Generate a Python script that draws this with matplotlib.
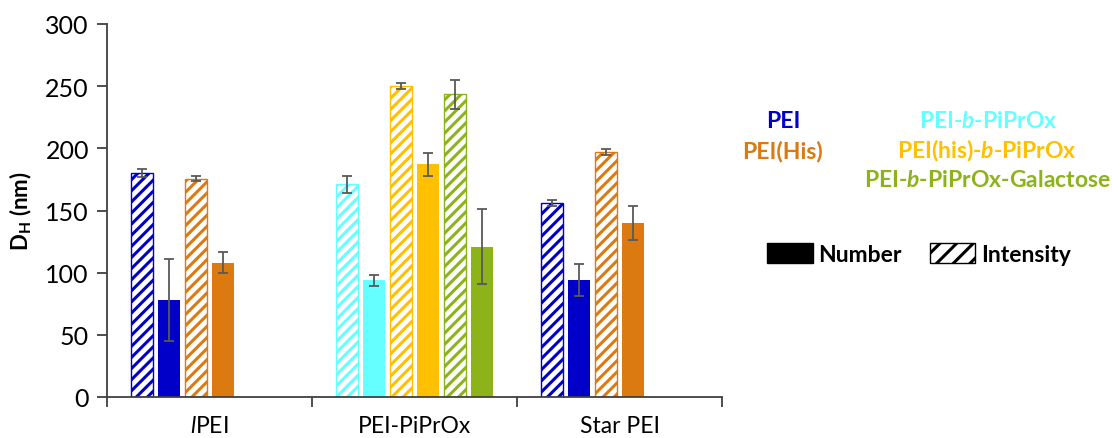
import numpy as np
import matplotlib
matplotlib.use('Agg')
import matplotlib.pyplot as plt
from matplotlib.patches import Patch

plt.rcParams['font.family'] = ['Lato', 'DejaVu Sans']
plt.rcParams['mathtext.fontset'] = 'custom'
plt.rcParams['mathtext.rm'] = 'Lato'
plt.rcParams['mathtext.it'] = 'Lato:italic'
plt.rcParams['mathtext.bf'] = 'Lato:bold'
plt.rcParams['mathtext.bfit'] = 'Lato:italic:bold'
plt.rcParams['hatch.linewidth'] = 2.2

nan = np.nan

# groups on the x axis
groups = [r'$\mathit{l}$PEI', 'PEI-PiPrOx', 'Star PEI']

# series: intensity / number means and errors per group
pei_int = [180, nan, 156]
pei_int_err = [3, nan, 2.5]
pei_num = [78, nan, 94]
pei_num_err = [33, nan, 13]

his_int = [175.5, nan, 197]
his_int_err = [2, nan, 2.5]
his_num = [108, nan, 140]
his_num_err = [8.5, nan, 13.5]

piprox_int = [nan, 171, nan]
piprox_int_err = [nan, 7, nan]
piprox_num = [nan, 94, nan]
piprox_num_err = [nan, 4.5, nan]

hispiprox_int = [nan, 250, nan]
hispiprox_int_err = [nan, 2.5, nan]
hispiprox_num = [nan, 187, nan]
hispiprox_num_err = [nan, 9.5, nan]

gal_int = [nan, 243.5, nan]
gal_int_err = [nan, 11.5, nan]
gal_num = [nan, 121, nan]
gal_num_err = [nan, 30, nan]

# (label, colour, slot pair, intensity, int err, number, num err)
series = [
    ('PEI', '#0000C8', 0, pei_int, pei_int_err, pei_num, pei_num_err),
    ('PEI(His)', '#DC7A12', 1, his_int, his_int_err, his_num, his_num_err),
    ('PEI-b-PiPrOx', '#66FFFF', 0, piprox_int, piprox_int_err, piprox_num, piprox_num_err),
    ('PEI(his)-b-PiPrOx', '#FFC000', 1, hispiprox_int, hispiprox_int_err, hispiprox_num, hispiprox_num_err),
    ('PEI-b-PiPrOx-Galactose', '#8DB31A', 2, gal_int, gal_int_err, gal_num, gal_num_err),
]

fig = plt.figure(figsize=(11.12, 4.39), dpi=100)
ax = fig.add_axes([107 / 1112, 1 - 398 / 439, (722 - 107) / 1112, (398 - 25) / 439])

x = np.arange(len(groups))
pitch = 27 / 205
width = 21.5 / 205
err_kw = dict(ecolor='#595959', elinewidth=1.3, capsize=3.5, capthick=1.3)

for label, color, slot, inten, inten_err, num, num_err in series:
    off_i = (2 * slot - 2.5) * pitch
    off_n = (2 * slot + 1 - 2.5) * pitch
    ax.bar(x + off_i, inten, width, yerr=inten_err, facecolor='white', edgecolor=color,
           hatch='///', linewidth=1.0, error_kw=err_kw, zorder=2)
    ax.bar(x + off_n, num, width, yerr=num_err, color=color, error_kw=err_kw, zorder=2)

ax.set_xlim(-0.5, 2.5)
ax.set_ylim(0, 300)
ax.set_yticks(range(0, 301, 50))
ax.set_xticks([-0.5, 0.5, 1.5, 2.5])
ax.set_xticklabels([])
ax.set_xticks(x, minor=True)
ax.set_xticklabels(groups, minor=True, fontsize=16.5)
ax.tick_params(axis='x', which='minor', length=0, pad=13)
ax.tick_params(axis='x', which='major', length=7, width=1.3, color='#404040')
ax.tick_params(axis='y', length=7, width=1.3, color='#404040', labelsize=18, pad=6)
for s in ['top', 'right']:
    ax.spines[s].set_visible(False)
for s in ['left', 'bottom']:
    ax.spines[s].set_linewidth(1.3)
    ax.spines[s].set_color('#404040')
ylab = ax.set_ylabel(r'D$_\mathbf{H}$ (nm)', fontsize=16, fontweight='bold', labelpad=8)

# fit the y label to about 80 px long, as in the reference
fig.canvas.draw()
h = ylab.get_window_extent().height
ylab.set_fontsize(16 * 80 / h)

# coloured series names
fs = 16.5
fig.text(783 / 1112, 1 - 121 / 439, 'PEI', color='#0000C8', fontsize=fs, fontweight='bold', ha='center', va='center')
fig.text(782 / 1112, 1 - 151 / 439, 'PEI(His)', color='#DC7A12', fontsize=fs, fontweight='bold', ha='center', va='center')
fig.text(988 / 1112, 1 - 121 / 439, r'PEI-$\mathbfit{b}$-PiPrOx', color='#66FFFF', fontsize=fs, fontweight='bold', ha='center', va='center')
fig.text(987 / 1112, 1 - 151 / 439, r'PEI(his)-$\mathbfit{b}$-PiPrOx', color='#FFC000', fontsize=fs, fontweight='bold', ha='center', va='center')
fig.text(987 / 1112, 1 - 181 / 439, r'PEI-$\mathbfit{b}$-PiPrOx-Galactose', color='#8DB31A', fontsize=fs, fontweight='bold', ha='center', va='center')

handles = [Patch(facecolor='black', edgecolor='black'),
           Patch(facecolor='white', edgecolor='black', hatch='//', linewidth=1.0)]
fig.legend(handles, ['Number', 'Intensity'], loc='center', bbox_to_anchor=(919 / 1112, 1 - 255 / 439),
           ncol=2, frameon=False, handlelength=2.0, handleheight=1.0, handletextpad=0.25,
           columnspacing=1.2, prop={'weight': 'bold', 'size': fs})

fig.savefig('out.png', dpi=100)
